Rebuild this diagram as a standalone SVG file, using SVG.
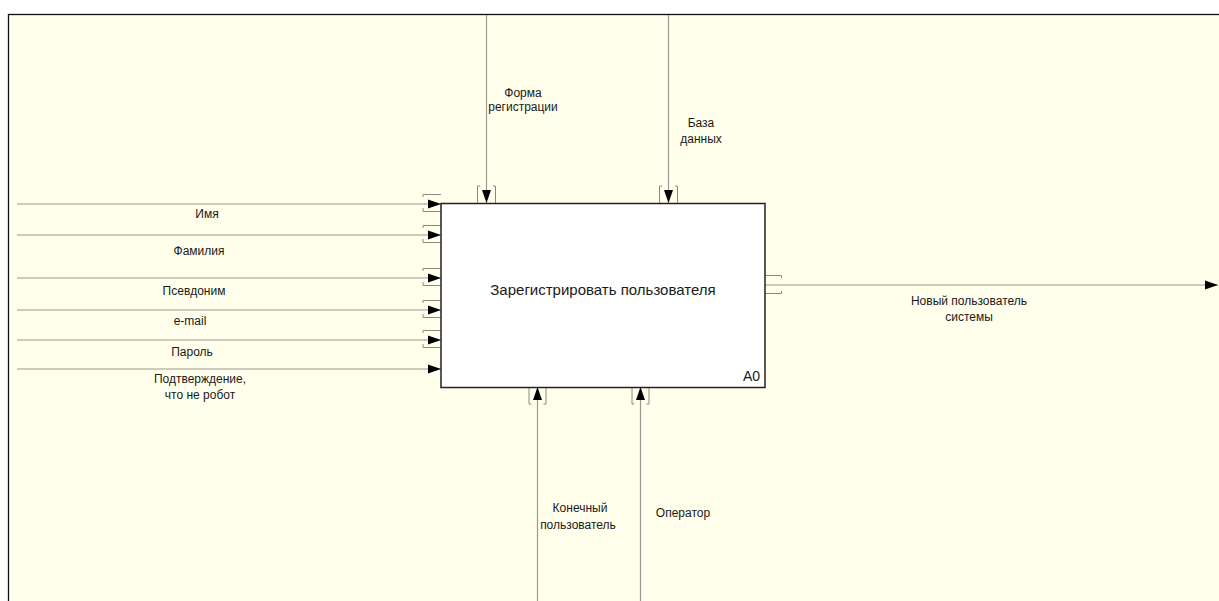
<svg xmlns="http://www.w3.org/2000/svg" width="1219" height="601" viewBox="0 0 1219 601">
<defs>
<marker id="ah" markerWidth="13" markerHeight="10" refX="13" refY="5" orient="auto" markerUnits="userSpaceOnUse">
<path d="M0,0.5 L13,5 L0,9.5 Z" fill="#000"/>
</marker>
<style>
.ln{stroke:#9a9a90;stroke-width:1.2;fill:none}
.br{stroke:#8a8a80;stroke-width:1;fill:none}
.t{font-family:"Liberation Sans",Arial,sans-serif;font-size:12px;fill:#1a1a1a;text-anchor:middle}
</style>
</defs>
<rect x="0" y="0" width="1219" height="601" fill="#ffffff"/>
<rect x="8.5" y="14.5" width="1230" height="620" fill="#ffffec" stroke="#111" stroke-width="1.3"/>
<g id="connectors">
<g id="in-imya"><path class="ln" d="M17,204 H441" marker-end="url(#ah)"/><path class="br" d="M423,197 V194.5 H441 M423,208 V211.5 H441"/><text class="t" x="207" y="218">Имя</text></g>
<g id="in-familiya"><path class="ln" d="M17,235 H441" marker-end="url(#ah)"/><path class="br" d="M423,228 V225.5 H441 M423,239 V242.5 H441"/><text class="t" x="199" y="255">Фамилия</text></g>
<g id="in-psevdonim"><path class="ln" d="M17,278 H441" marker-end="url(#ah)"/><path class="br" d="M423,271 V268.5 H441 M423,282 V285.5 H441"/><text class="t" x="194" y="295">Псевдоним</text></g>
<g id="in-email"><path class="ln" d="M17,310 H441" marker-end="url(#ah)"/><path class="br" d="M423,303 V300.5 H441 M423,314 V317.5 H441"/><text class="t" x="190" y="325">e-mail</text></g>
<g id="in-parol"><path class="ln" d="M17,340 H441" marker-end="url(#ah)"/><path class="br" d="M423,333 V330.5 H441 M423,344 V347.5 H441"/><text class="t" x="192" y="356">Пароль</text></g>
<g id="in-robot"><path class="ln" d="M17,369 H441" marker-end="url(#ah)"/><text class="t" x="200" y="383">Подтверждение,</text><text class="t" x="200" y="399">что не робот</text></g>
<g id="ctl-forma"><path class="ln" d="M486.5,15 V203" marker-end="url(#ah)"/><path class="br" d="M480,186 H477.5 V203 M493,186 H495.5 V203"/><text class="t" x="523" y="97">Форма</text><text class="t" x="523" y="111">регистрации</text></g>
<g id="ctl-bd"><path class="ln" d="M668.5,15 V203" marker-end="url(#ah)"/><path class="br" d="M662,186 H659.5 V203 M675,186 H677.5 V203"/><text class="t" x="701" y="127">База</text><text class="t" x="701" y="143">данных</text></g>
<g id="mech-user"><path class="ln" d="M537.5,601 V387" marker-end="url(#ah)"/><path class="br" d="M531.5,404 H529 V387 M543.5,404 H546 V387"/><text class="t" x="580" y="512">Конечный</text><text class="t" x="578" y="529">пользователь</text></g>
<g id="mech-oper"><path class="ln" d="M640.5,601 V387" marker-end="url(#ah)"/><path class="br" d="M634.5,404 H632 V387 M646.5,404 H649 V387"/><text class="t" x="683" y="517">Оператор</text></g>
<g id="out-new"><path class="ln" d="M765,285 H1218" marker-end="url(#ah)"/><path class="br" d="M765,275.5 H781.5 V278 M765,293.5 H781.5 V291"/><text class="t" x="969" y="305">Новый пользователь</text><text class="t" x="969" y="321">системы</text></g>
</g>
<g id="node-a0">
<rect x="441" y="203.5" width="324" height="184" fill="#ffffff" stroke="#222" stroke-width="1.5"/>
<text x="603" y="295" style="font-family:'Liberation Sans',Arial,sans-serif;font-size:15px;fill:#1a1a1a;text-anchor:middle">Зарегистрировать пользователя</text>
<text x="760" y="381" style="font-family:'Liberation Sans',Arial,sans-serif;font-size:14px;fill:#1a1a1a;text-anchor:end">A0</text>
</g>
</svg>
